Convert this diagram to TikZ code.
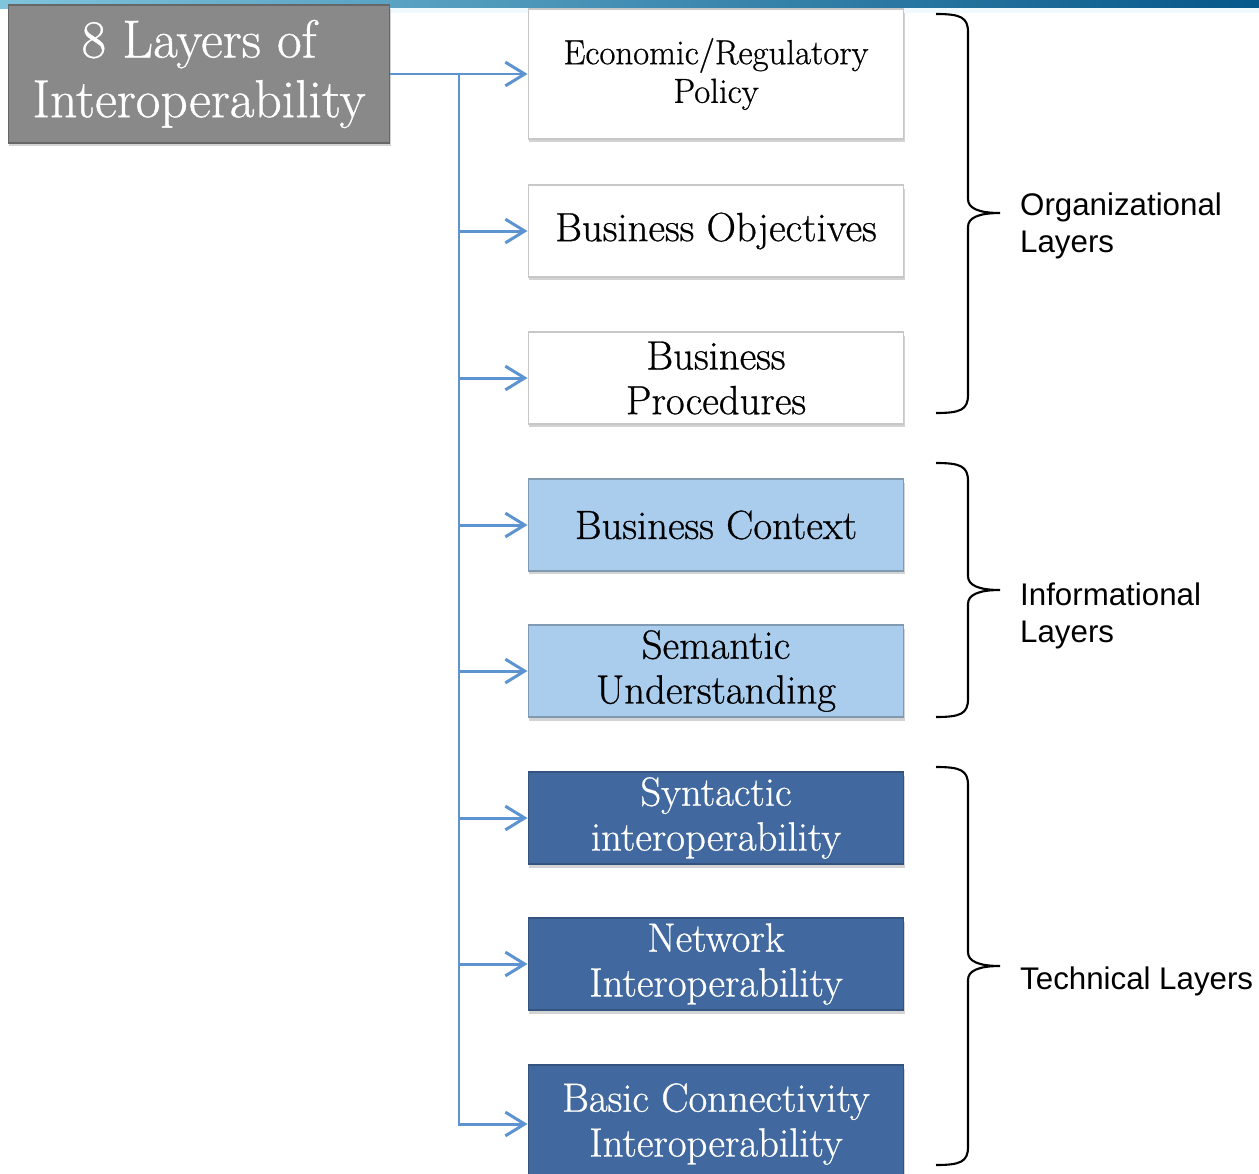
\documentclass[tikz,border=0pt]{standalone}
\usepackage{fontspec}
\newfontfamily\labelfont{Liberation Sans}
\newfontfamily\boxfont{Latin Modern Roman}[FakeBold=0.7]
\usetikzlibrary{arrows.meta,shadows}

\definecolor{linkblue}{HTML}{5D93D0}
\definecolor{paleblue}{HTML}{AACDEE}
\definecolor{deepblue}{HTML}{41699F}
\definecolor{titlegray}{HTML}{898989}
\definecolor{barlight}{HTML}{80C4DC}
\definecolor{bardark}{HTML}{06588A}

\tikzset{
  layer/.style={line width=0.6pt, minimum width=7.52cm, minimum height=1.84cm,
    align=center, inner sep=2pt, font=\boxfont\fontsize{23.2}{25.5}\selectfont,
    drop shadow={shadow xshift=0.02cm, shadow yshift=-0.07cm, opacity=0.35}},
  orglayer/.style={layer, fill=white, draw=black!22},
  infolayer/.style={layer, fill=paleblue, draw=paleblue!75!black},
  techlayer/.style={layer, fill=deepblue, draw=deepblue!80!black, text=white},
  titlebox/.style={fill=titlegray, draw=titlegray!75!black, line width=0.6pt,
    minimum width=7.64cm, minimum height=2.76cm, align=center, text=white,
    font=\boxfont\fontsize{30.5}{34}\selectfont,
    drop shadow={shadow xshift=0.02cm, shadow yshift=-0.07cm, opacity=0.35}},
  link/.style={draw=linkblue, line width=1.7pt, -{Straight Barb[length=11pt,width=13.5pt,line width=1.7pt]}},
  bracepath/.style={draw=black, line width=1.2pt},
  layerlabel/.style={anchor=west, align=left, font=\labelfont\fontsize{17.8}{21.5}\selectfont}
}

\begin{document}
\begin{tikzpicture}[x=0.02cm, y=-0.02cm]
  \clip (0,0) rectangle (1259,1174);
  % top strip
  \shade[left color=barlight, right color=bardark] (0,0) rectangle (1259,8);
  \fill[cyan!6] (390,8) rectangle (1259,13);

  \node[titlebox] (title) at (199,74) {8 Layers of\\Interoperability};

  % organizational
  \node[orglayer, minimum height=2.6cm, font=\boxfont\fontsize{19.8}{22}\selectfont] (econ) at (716,74) {Economic/Regulatory\\Policy};
  \node[orglayer] (bobj) at (716,231) {Business Objectives};
  \node[orglayer] (bproc) at (716,378) {Business\\Procedures};
  % informational
  \node[infolayer] (bctx) at (716,525) {Business Context};
  \node[infolayer] (sem) at (716,671) {Semantic\\Understanding};
  % technical
  \node[techlayer] (syn) at (716,818) {Syntactic\\interoperability};
  \node[techlayer] (net) at (716,964) {Network\\Interoperability};
  \node[techlayer, minimum height=2.36cm] (basic) at (716,1124) {Basic Connectivity\\Interoperability};

  % connectors
  \coordinate (fork) at (459,74);
  \draw[link] (title.east) -- (econ.west);
  \foreach \b in {bobj,bproc,bctx,sem,syn,net,basic}
    \draw[link] (fork) |- (\b.west);

  % braces
  \foreach \t/\m/\e in {14/213/413, 463/590/717, 767/966/1165}
    \draw[bracepath] (936,\t) .. controls (960,\t) and (968,{\t+3}) .. (968,{\t+18})
      -- (968,{\m-14}) .. controls (968,{\m-5}) and (978,\m) .. (1000,\m)
      .. controls (978,\m) and (968,{\m+5}) .. (968,{\m+14})
      -- (968,{\e-18}) .. controls (968,{\e-3}) and (960,\e) .. (936,\e);

  \node[layerlabel] (orglabel) at (1014,226) {Organizational\\Layers};
  \node[layerlabel] (infolabel) at (1014,616) {Informational\\Layers};
  \node[layerlabel] (techlabel) at (1014,981) {Technical Layers};
\end{tikzpicture}
\end{document}
